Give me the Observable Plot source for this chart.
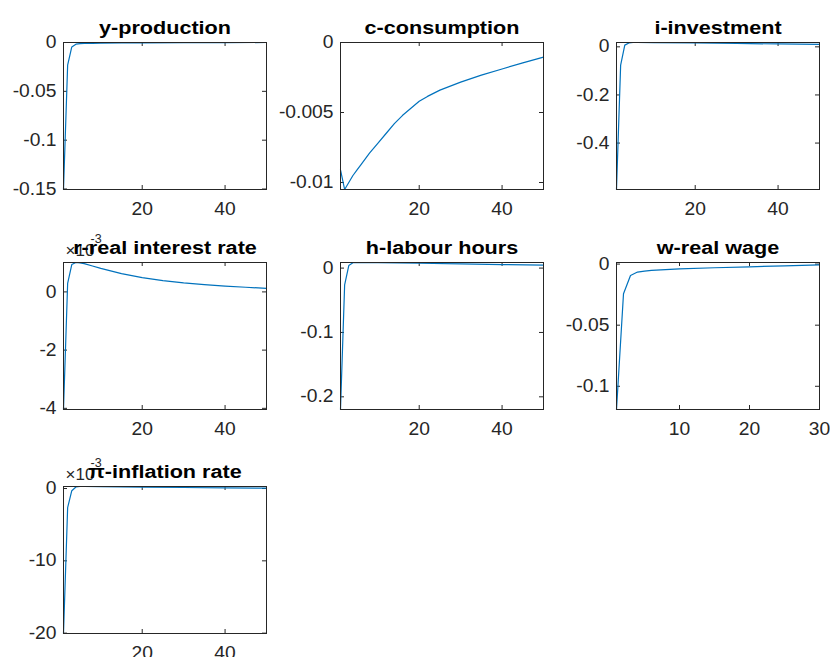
<!DOCTYPE html>
<html>
<head>
<meta charset="utf-8">
<script src="https://cdn.jsdelivr.net/npm/d3@7"></script>
<script src="https://cdn.jsdelivr.net/npm/@observablehq/plot@0.6"></script>
<style>
  body { margin: 0; background: #fff; }
  #fig { position: relative; width: 830px; height: 657px; overflow: hidden; background: #fff;
         font-family: "Liberation Sans", Arial, Helvetica, sans-serif; }
  #fig svg { position: absolute; }
</style>
</head>
<body>
<div id="fig"></div>
<script>
const titles = ["y-production", "c-consumption", "i-investment", "r-real interest rate",
                "h-labour hours", "w-real wage", "π-inflation rate"];

const yProdT = [1, 2, 3, 4, 5, 6, 8, 10, 15, 20, 30, 40, 50];
const yProdV = [-0.1505, -0.0232, -0.0045, -0.0017, -0.0012, -0.0010, -0.0008, -0.0007, -0.0005, -0.0004, -0.0002, -0.0001, 0];

const cConsT = [1, 2, 3, 4, 5, 6, 8, 10, 12, 14, 16, 18, 20, 22, 25, 30, 35, 40, 45, 50];
const cConsV = [-0.0091, -0.0105, -0.0100, -0.0095, -0.0091, -0.0087, -0.0079, -0.0072, -0.0065, -0.0058, -0.0052, -0.0047, -0.0042, -0.00385, -0.00340, -0.00283, -0.00233, -0.00189, -0.00146, -0.00105];

const invT = [1, 2, 3, 4, 5, 6, 10, 20, 30, 40, 50];
const invV = [-0.593, -0.076, 0.007, 0.016, 0.018, 0.018, 0.017, 0.016, 0.014, 0.012, 0.010];

const rT = [1, 2, 3, 4, 5, 6, 8, 10, 15, 20, 25, 30, 35, 40, 45, 50];
const rV = [-0.00404, 0.00029, 0.00094, 0.00101, 0.00100, 0.00097, 0.00089, 0.00081, 0.00063, 0.00049, 0.00039, 0.00031, 0.00025, 0.00020, 0.00016, 0.00012];

const hT = [1, 2, 3, 4, 5, 6, 10, 20, 30, 40, 50];
const hV = [-0.2197, -0.026, 0.004, 0.0083, 0.0087, 0.0086, 0.0083, 0.0075, 0.0065, 0.0055, 0.0045];

const wT = [1, 2, 3, 4, 5, 6, 8, 10, 15, 20, 25, 30];
const wV = [-0.119, -0.0243, -0.0093, -0.0065, -0.0057, -0.0052, -0.0045, -0.0039, -0.0030, -0.0022, -0.0014, -0.0006];

const piT = [1, 2, 3, 4, 5, 6, 10, 20, 30, 40, 50];
const piV = [-0.02005, -0.00265, -0.0003, 0.00022, 0.00028, 0.00028, 0.00026, 0.0002, 0.00014, 0.00009, 0.00005];

// axis limits and ticks (as in the reference)
const xLims = [[1, 50], [1, 50], [1, 50], [1, 50], [1, 50], [1, 30], [1, 50]];
const xTicks = [[20, 40], [20, 40], [20, 40], [20, 40], [20, 40], [10, 20, 30], [20, 40]];
const yLims = [[-0.1505, 0], [-0.0105, 0], [-0.593, 0.018], [-0.00404, 0.00101],
               [-0.2197, 0.0087], [-0.119, 0.0013], [-0.02005, 0.00028]];
const yTicks = [[-0.15, -0.1, -0.05, 0], [-0.01, -0.005, 0], [-0.4, -0.2, 0], [-0.004, -0.002, 0],
                [-0.2, -0.1, 0], [-0.1, -0.05, 0], [-0.02, -0.01, 0]];
const yScaleExp = [0, 0, 0, -3, 0, 0, -3];

const seriesT = [yProdT, cConsT, invT, rT, hT, wT, piT];
const seriesV = [yProdV, cConsV, invV, rV, hV, wV, piV];

// ---- layout ----
const colLeft = [63, 340, 616];
const rowTop = [42, 262, 486];
const W = 203, H = 147;
const mL = 66, mR = 12, mT = 44, mB = 34;
const axisColor = "#262626";
const lineColor = "#0072BD";

const fig = document.getElementById("fig");

function stretchText(t, k) {
  const L = t.getComputedTextLength();
  if (L > 0) {
    t.setAttribute("textLength", (L * k).toFixed(2));
    t.setAttribute("lengthAdjust", "spacingAndGlyphs");
  }
}

titles.forEach((title, i) => {
  const col = i % 3, row = Math.floor(i / 3);
  const data = seriesT[i].map((t, j) => ({t, v: seriesV[i][j]}));
  const exp = yScaleExp[i];
  const fmt = exp ? (d => String(Math.round(d / Math.pow(10, exp)))) : (d => String(d));
  const marks = [
    Plot.tickY(yTicks[i], {y: d => d, insetRight: W - 4, stroke: axisColor}),
    Plot.tickY(yTicks[i], {y: d => d, insetLeft: W - 4, stroke: axisColor}),
    Plot.tickX(xTicks[i], {x: d => d, insetTop: H - 4, stroke: axisColor}),
    Plot.tickX(xTicks[i], {x: d => d, insetBottom: H - 4, stroke: axisColor}),
    Plot.line(data, {x: "t", y: "v", stroke: lineColor, strokeWidth: 1.2}),
    Plot.frame({stroke: axisColor, strokeWidth: 1})
  ];
  if (exp) {
    marks.push(Plot.text(["×10"], {frameAnchor: "top-left", text: d => d, textAnchor: "start",
      lineAnchor: "bottom", dx: 2, dy: -7, fontSize: 17, fill: axisColor}));
    marks.push(Plot.text([String(exp)], {frameAnchor: "top-left", text: d => d, textAnchor: "start",
      lineAnchor: "bottom", dx: 27, dy: -20, fontSize: 12.5, fill: axisColor}));
  }
  marks.push(Plot.text([title], {frameAnchor: "top", text: d => d, lineAnchor: "bottom",
    dy: -9, fontSize: 18, fontWeight: "bold", fill: "#000"}));

  const svg = Plot.plot({
    width: mL + W + mR,
    height: mT + H + mB,
    marginLeft: mL, marginRight: mR, marginTop: mT, marginBottom: mB,
    style: {background: "transparent", fontSize: "17.5px", color: axisColor,
            fontFamily: "'Liberation Sans', Arial, Helvetica, sans-serif", overflow: "visible"},
    x: {domain: xLims[i], ticks: xTicks[i], tickSize: 0, tickPadding: 13, label: null},
    y: {domain: yLims[i], ticks: yTicks[i], tickFormat: fmt, tickSize: 0, tickPadding: 7, label: null},
    marks
  });
  svg.style.left = (colLeft[col] - mL) + "px";
  svg.style.top = (rowTop[row] - mT) + "px";
  fig.appendChild(svg);
  svg.querySelectorAll('g[aria-label="y-axis tick label"] text, g[aria-label="x-axis tick label"] text')
     .forEach(t => stretchText(t, 1.1));
  svg.querySelectorAll("text").forEach(t => {
    if (t.textContent === title) stretchText(t, 1.2);
  });
});
</script>
</body>
</html>
